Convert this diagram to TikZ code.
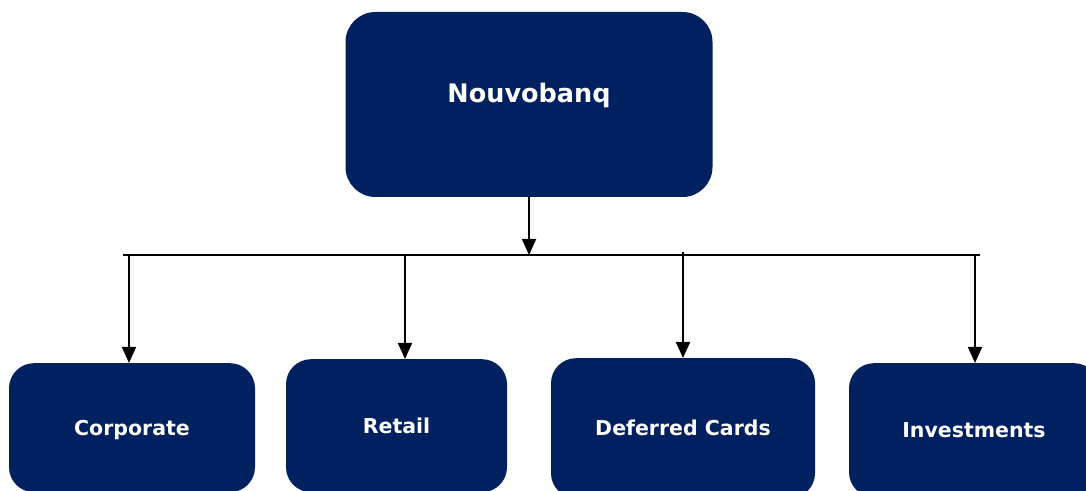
\documentclass[tikz,border=0pt]{standalone}
\usepackage{fontspec}
\setmainfont{DejaVu Sans}
\usetikzlibrary{arrows.meta}
\definecolor{navy}{HTML}{002060}
\tikzset{
 head/.style
  = {rectangle, fill=navy, text=white, rounded corners=30pt, minimum width=367pt,
     minimum height=185pt, text height=18.6pt, text depth=23pt,
     font=\fontsize{25.5}{30}\selectfont\bfseries},
 unit/.style
  = {rectangle, fill=navy, text=white, rounded corners=25pt, anchor=north,
     text height=15pt, text depth=0pt, font=\fontsize{20.5}{24}\selectfont\bfseries},
 l/.style
  = {draw, -{Triangle[width=14pt,length=16pt]}, line width=1.8pt},
 bus/.style
  = {draw, line width=1.8pt}
}
\begin{document}
\begin{tikzpicture}[x=1pt, y=1pt]
    \useasboundingbox (0,0) rectangle (1086,490);
    \clip (0,0) rectangle (1086,490);
    \node [head] (bank) at (529,385.5) {Nouvobanq};
    \node [unit, minimum width=246pt, minimum height=129pt] (corporate) at (132,127) {Corporate};
    \node [unit, minimum width=221pt, minimum height=133pt] (retail) at (396.5,131) {Retail};
    \node [unit, minimum width=264pt, minimum height=140pt] (cards) at (683,132) {Deferred Cards};
    \node [unit, minimum width=250pt, minimum height=134pt] (invest) at (974,127) {Investments};

    \coordinate (busw) at (123,235);
    \coordinate (buse) at (980,235);
    \coordinate (tocorporate) at (129,235);
    \coordinate (toretail) at (405,235);
    \coordinate (tocards) at (683,238);
    \coordinate (toinvest) at (975,235);

    \path [bus] (busw) -- (buse);
    \path [l] (bank.south) -- (bank.south |- busw);
    \path [l] (tocorporate) -- (tocorporate |- corporate.north);
    \path [l] (toretail) -- (toretail |- retail.north);
    \path [l] (tocards) -- (tocards |- cards.north);
    \path [l] (toinvest) -- (toinvest |- invest.north);
\end{tikzpicture}
\end{document}
